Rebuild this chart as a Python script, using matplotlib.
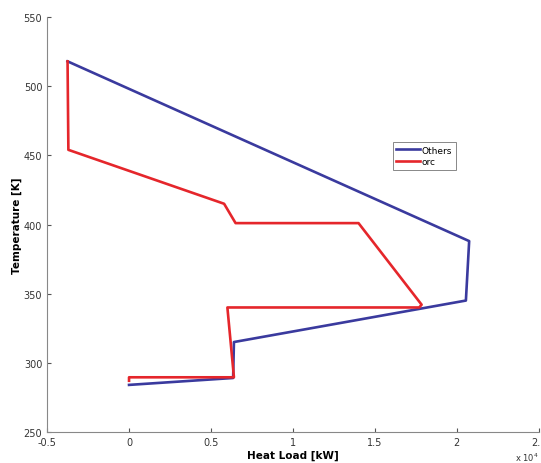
import matplotlib
matplotlib.use("Agg")
import matplotlib.pyplot as plt
from matplotlib.ticker import FuncFormatter

# Composite curves, heat load in kW, temperature in K
others_q = [0, 6350, 6400, 20550, 20750, -3750]
others_t = [284, 289, 315, 345, 388, 518]

orc_q = [0, 0, 6400, 6000, 17700, 17850, 14000, 6500, 5800, -3700, -3750]
orc_t = [287, 289.5, 289.5, 340, 340, 342, 401, 401, 415, 454, 518]

xticks = [-5000, 0, 5000, 10000, 15000, 20000, 25000]
yticks = [250, 300, 350, 400, 450, 500, 550]

fig = plt.figure(figsize=(5.41, 4.64), dpi=100)
ax = fig.add_axes([0.087, 0.067, 0.909, 0.894])

ax.plot(others_q, others_t, color="#3a3a9e", lw=1.9, label="Others")
ax.plot(orc_q, orc_t, color="#e5262b", lw=1.9, label="orc")

ax.set_xlim(-5000, 25000)
ax.set_ylim(250, 550)
ax.set_xticks(xticks)
ax.set_yticks(yticks)
ax.xaxis.set_major_formatter(FuncFormatter(lambda v, p: f"{v / 1e4:g}"))
ax.tick_params(direction="in", length=3, labelsize=7, colors="#555555",
               labelcolor="#333333")

for side in ["top", "right"]:
    ax.spines[side].set_visible(False)
for side in ["left", "bottom"]:
    ax.spines[side].set_color("#888888")
    ax.spines[side].set_linewidth(0.8)

ax.set_xlabel("Heat Load [kW]", fontsize=7.5, fontweight="bold", labelpad=2)
ax.set_ylabel("Temperature [K]", fontsize=7.5, fontweight="bold", labelpad=1)
ax.text(1.0, -0.045, r"x 10$^4$", transform=ax.transAxes, fontsize=6,
        ha="right", va="top", color="#333333")

leg = ax.legend(loc="upper left", bbox_to_anchor=(0.694, 0.71), fontsize=6.5,
                handlelength=2.6, handletextpad=0.2, borderpad=0.4,
                labelspacing=0.3, fancybox=False, framealpha=1)
leg.get_frame().set_edgecolor("#888888")
leg.get_frame().set_linewidth(0.7)

fig.savefig("out.png", dpi=100)
